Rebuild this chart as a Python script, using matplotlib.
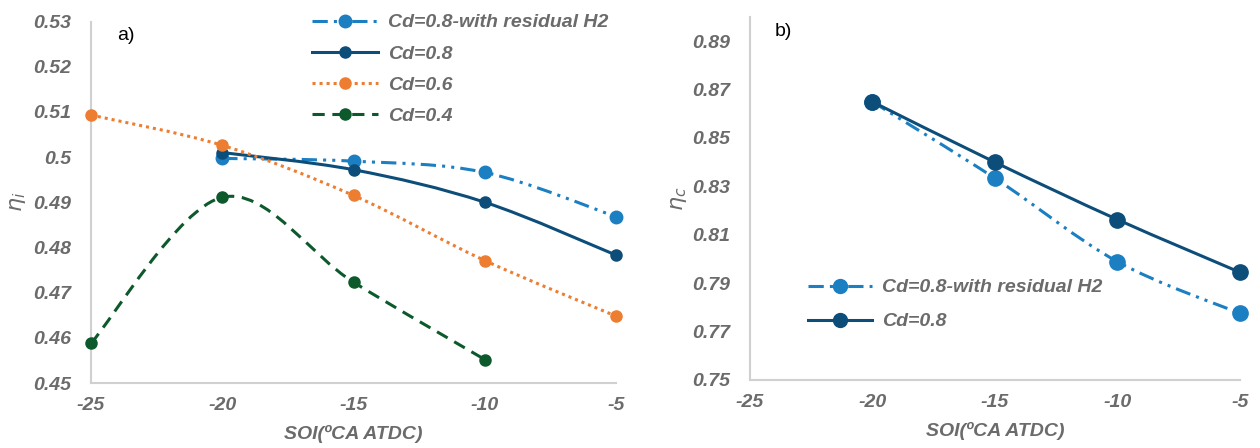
import matplotlib
matplotlib.use("Agg")
import matplotlib.pyplot as plt
from matplotlib.path import Path
from matplotlib.patches import PathPatch
from matplotlib.lines import Line2D
from matplotlib.ticker import FuncFormatter

plt.rcParams['font.family'] = ['Liberation Sans', 'DejaVu Sans']
plt.rcParams['axes.unicode_minus'] = False

# ---- data ----
soi_a = [-25, -20, -15, -10, -5]
soi_b = [-20, -15, -10, -5]

eta_i_res = [0.4997, 0.4991, 0.4966, 0.4868]      # Cd=0.8 with residual H2 (-20..-5)
eta_i_08 = [0.5010, 0.4972, 0.4900, 0.4783]       # Cd=0.8 (-20..-5)
eta_i_06 = [0.5093, 0.5026, 0.4915, 0.4771, 0.4648]  # Cd=0.6 (-25..-5)
eta_i_04 = [0.4588, 0.4911, 0.4723, 0.4552]       # Cd=0.4 (-25..-10)

eta_c_res = [0.865, 0.8334, 0.7989, 0.7775]
eta_c_08 = [0.865, 0.8400, 0.8163, 0.7945]

yticks_a = [0.45, 0.46, 0.47, 0.48, 0.49, 0.50, 0.51, 0.52, 0.53]
yticks_b = [0.75, 0.77, 0.79, 0.81, 0.83, 0.85, 0.87, 0.89]
xticks = [-25, -20, -15, -10, -5]

C_RES = "#1b7fc1"
C_08 = "#0d4d7a"
C_06 = "#ed7d31"
C_04 = "#0c5a2b"
GREY = "#6b6b6b"

LS_RES = (0, (5, 2, 1, 2, 1, 2))
LS_06 = (0, (1, 1.3))
LS_04 = (0, (4, 2.5))


def smooth_path(xs, ys):
    # Excel style smoothed line: cubic bezier through points (Catmull-Rom, tension 1/6)
    pts = list(zip(xs, ys))
    verts = [pts[0]]
    codes = [Path.MOVETO]
    n = len(pts)
    for i in range(n - 1):
        p0 = pts[i - 1] if i > 0 else pts[i]
        p1 = pts[i]
        p2 = pts[i + 1]
        p3 = pts[i + 2] if i + 2 < n else pts[i + 1]
        c1 = (p1[0] + (p2[0] - p0[0]) / 6, p1[1] + (p2[1] - p0[1]) / 6)
        c2 = (p2[0] - (p3[0] - p1[0]) / 6, p2[1] - (p3[1] - p1[1]) / 6)
        verts += [c1, c2, p2]
        codes += [Path.CURVE4] * 3
    return Path(verts, codes)


def draw_series(ax, xs, ys, color, ls, lw, ms, z):
    patch = PathPatch(smooth_path(xs, ys), facecolor="none", edgecolor=color,
                      linewidth=lw, linestyle=ls, capstyle="butt", zorder=z, clip_on=False)
    ax.add_patch(patch)
    ax.plot(xs, ys, linestyle="none", marker="o", markersize=ms, color=color,
            zorder=z + 0.5, clip_on=False)


def style_axes(ax, yticks, ylim):
    ax.set_xlim(-25, -5)
    ax.set_ylim(*ylim)
    ax.set_xticks(xticks)
    ax.set_yticks(yticks)
    ax.yaxis.set_major_formatter(FuncFormatter(lambda v, p: f"{v:g}"))
    for s in ["top", "right"]:
        ax.spines[s].set_visible(False)
    for s in ["left", "bottom"]:
        ax.spines[s].set_color("#d0d0d0")
        ax.spines[s].set_linewidth(1.5)
    ax.tick_params(length=0, labelsize=14, labelcolor=GREY)
    ax.tick_params(axis="y", pad=14)
    ax.tick_params(axis="x", pad=10)
    for lab in ax.get_xticklabels() + ax.get_yticklabels():
        lab.set_fontweight("bold")
        lab.set_fontstyle("italic")
    ax.set_xlabel("SOI(ºCA ATDC)", fontsize=14, color=GREY, fontweight="bold",
                  fontstyle="italic", labelpad=8)


fig = plt.figure(figsize=(12.6, 4.48), dpi=100)
ax1 = fig.add_axes([0.0722, 0.145, 0.4168, 0.807])
ax2 = fig.add_axes([0.595, 0.152, 0.389, 0.810])

# ---- a) ----
style_axes(ax1, yticks_a, (0.45, 0.53))
draw_series(ax1, soi_b, eta_i_res, C_RES, LS_RES, 2.2, 9, 3)
draw_series(ax1, soi_b, eta_i_08, C_08, "-", 2.2, 8, 4)
draw_series(ax1, soi_a, eta_i_06, C_06, LS_06, 2.2, 8, 5)
draw_series(ax1, soi_a[:4], eta_i_04, C_04, LS_04, 2.2, 8, 6)
ax1.set_ylabel(r"$\eta_i$", fontsize=16, color=GREY, labelpad=4)
ax1.text(0.05, 0.96, "a)", transform=ax1.transAxes, fontsize=14, va="center")

handles_a = [
    Line2D([], [], color=C_RES, ls=LS_RES, lw=2.2, marker="o", ms=9),
    Line2D([], [], color=C_08, ls="-", lw=2.2, marker="o", ms=8),
    Line2D([], [], color=C_06, ls=LS_06, lw=2.2, marker="o", ms=8),
    Line2D([], [], color=C_04, ls=LS_04, lw=2.2, marker="o", ms=8),
]
labels_a = ["Cd=0.8-with residual H2", "Cd=0.8", "Cd=0.6", "Cd=0.4"]
leg = ax1.legend(handles_a, labels_a, loc="upper left", bbox_to_anchor=(302 / 1260, 1 - 4 / 448),
                 bbox_transform=fig.transFigure, frameon=False, handlelength=3.4,
                 handletextpad=0.5, labelspacing=0.7, borderpad=0,
                 prop={"size": 14, "weight": "bold", "style": "italic"})
for t in leg.get_texts():
    t.set_color(GREY)

# ---- b) ----
style_axes(ax2, yticks_b, (0.75, 0.90))
draw_series(ax2, soi_b, eta_c_res, C_RES, LS_RES, 2.2, 11, 3)
draw_series(ax2, soi_b, eta_c_08, C_08, "-", 2.2, 11, 4)
ax2.set_ylabel(r"$\eta_c$", fontsize=16, color=GREY, labelpad=2)
ax2.text(0.05, 0.96, "b)", transform=ax2.transAxes, fontsize=14, va="center")

handles_b = [
    Line2D([], [], color=C_RES, ls=LS_RES, lw=2.2, marker="o", ms=10),
    Line2D([], [], color=C_08, ls="-", lw=2.2, marker="o", ms=10),
]
labels_b = ["Cd=0.8-with residual H2", "Cd=0.8"]
leg2 = ax2.legend(handles_b, labels_b, loc="upper left", bbox_to_anchor=(798 / 1260, 1 - 269 / 448),
                  bbox_transform=fig.transFigure, frameon=False, handlelength=3.3,
                  handletextpad=0.5, labelspacing=0.85, borderpad=0,
                  prop={"size": 14, "weight": "bold", "style": "italic"})
for t in leg2.get_texts():
    t.set_color(GREY)

fig.savefig("out.png", dpi=100)
